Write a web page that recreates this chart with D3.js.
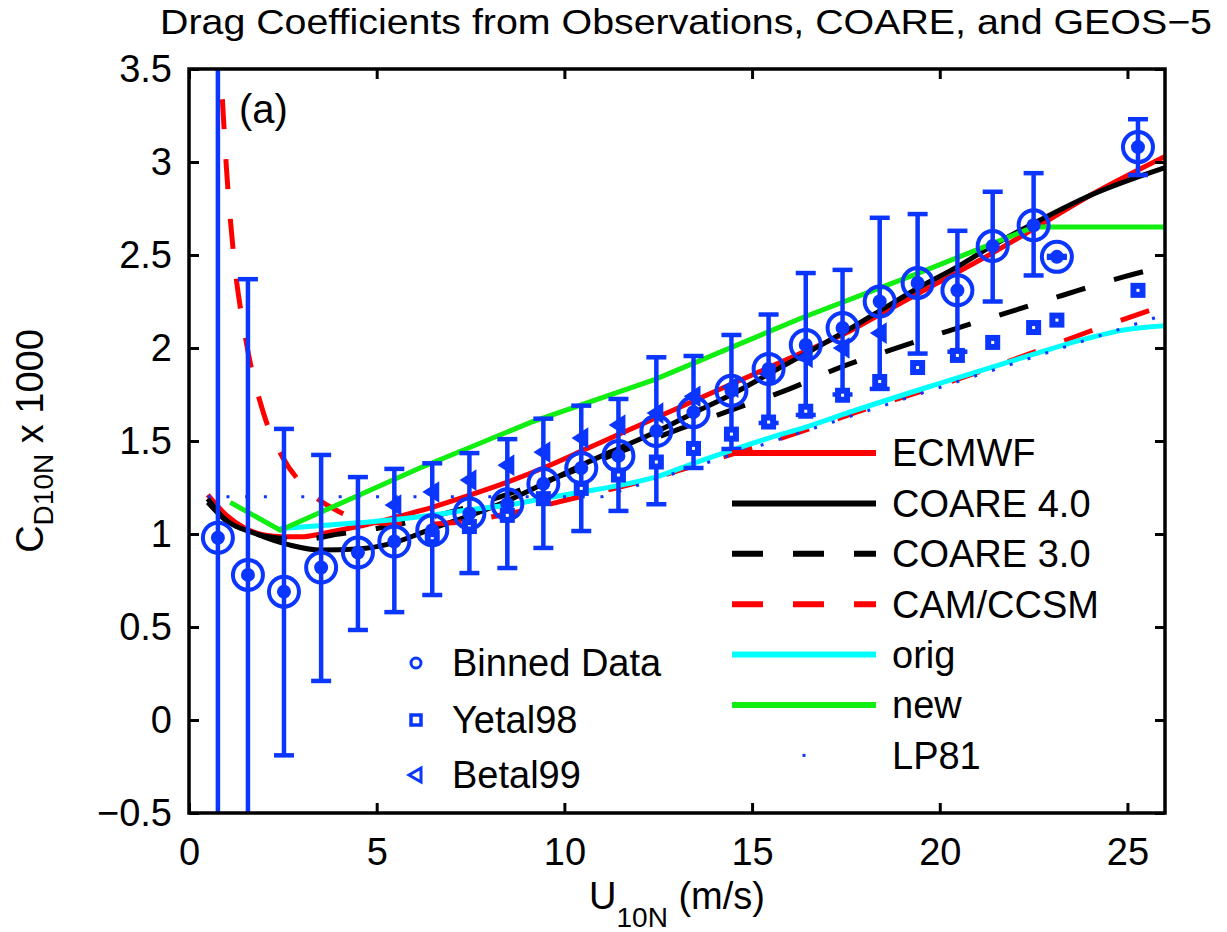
<!DOCTYPE html>
<html>
<head>
<meta charset="utf-8">
<script src="https://cdn.jsdelivr.net/npm/d3@7"></script>
<style>
  body { margin: 0; background: #fff; }
  text { font-family: "Liberation Sans", Arial, Helvetica, sans-serif; fill: #000; }
</style>
</head>
<body>
<div id="chart"></div>
<script>
// ---- data ----
// binned observations (circle + error bar)
var binU    = [0.77, 1.57, 2.53, 3.52, 4.5, 5.47, 6.48, 7.47, 8.48, 9.44, 10.45, 11.44, 12.45,
               13.44, 14.45, 15.44, 16.43, 17.41, 18.4, 19.41, 20.47, 21.41, 22.5, 23.12, 25.28];
var binCd   = [0.98, 0.78, 0.69, 0.82, 0.90, 0.96, 1.02, 1.11, 1.16, 1.27, 1.355, 1.42, 1.554,
               1.655, 1.77, 1.887, 2.016, 2.108, 2.25, 2.35, 2.31, 2.548, 2.66, 2.49, 3.08];
var binTop  = [4.2, 2.37, 1.565, 1.425, 1.306, 1.35, 1.38, 1.435, 1.51, 1.62, 1.69, 1.726, 1.95,
               1.957, 2.07, 2.18, 2.403, 2.42, 2.70, 2.72, 2.63, 2.84, 2.94, 2.495, 3.23];
var binLow  = [-1.0, -1.0, -0.19, 0.21, 0.484, 0.58, 0.672, 0.79, 0.817, 0.925, 1.016, 1.124, 1.16,
               1.355, 1.457, 1.597, 1.64, 1.75, 1.78, 1.97, 1.98, 2.25, 2.39, 2.485, 2.93];

// Yetal98 squares
var yetU  = [6.48, 7.47, 8.48, 9.44, 10.45, 11.44, 12.45, 13.44, 14.45, 15.44, 16.43, 17.41,
             18.4, 19.41, 20.47, 21.41, 22.5, 23.12, 25.28];
var yetCd = [0.98, 1.04, 1.10, 1.19, 1.245, 1.317, 1.387, 1.46, 1.537, 1.602, 1.66, 1.746,
             1.82, 1.895, 1.96, 2.03, 2.11, 2.15, 2.31];

// Betal99 triangles
var betU  = [5.47, 6.48, 7.47, 8.48, 9.44, 10.45, 11.44, 12.45, 13.44, 14.45, 15.44, 16.43, 17.41, 18.4];
var betCd = [1.156, 1.226, 1.29, 1.37, 1.44, 1.516, 1.586, 1.65, 1.74, 1.79, 1.86, 1.95, 2.0, 2.08];

// model curves
var ecmwfU  = [0.5, 1, 1.5, 2, 2.5, 3, 3.5, 4, 4.5, 5.5, 6.5, 7.5, 8.5, 9.5, 10.5, 11.5, 12.5,
               13.5, 14.5, 15.5, 16.5, 17.5, 18.4, 19.4, 20.5, 21.4, 22.5, 24, 26];
var ecmwfCd = [1.21, 1.1, 1.03, 0.995, 0.985, 0.985, 1.0, 1.02, 1.04, 1.09, 1.145, 1.21, 1.28,
               1.36, 1.45, 1.54, 1.63, 1.72, 1.81, 1.9, 1.99, 2.08, 2.18, 2.29, 2.41, 2.51, 2.64, 2.82, 3.03];

var coare4U  = [0.5, 0.9, 1.8, 2.7, 3.5, 4.5, 5.4, 6.5, 7.5, 8.5, 9.44, 10.45, 11.44, 12.45, 13.44,
                14.45, 15.44, 16.43, 17.4, 18.4, 19.4, 20.5, 21.4, 22.5, 24, 26];
var coare4Cd = [1.19, 1.09, 1.0, 0.94, 0.914, 0.92, 0.95, 1.03, 1.1, 1.18, 1.27, 1.37, 1.46, 1.55,
                1.65, 1.75, 1.86, 1.97, 2.08, 2.2, 2.32, 2.44, 2.55, 2.67, 2.82, 2.97];

var coare3U  = [0.5, 1, 2, 3, 4, 5, 6, 7, 8, 9, 10, 11.6, 13, 14.5, 16, 17.4, 18.7, 20.2, 21.8, 23.3, 24.85, 26];
var coare3Cd = [1.17, 1.07, 0.99, 0.97, 1.0, 1.03, 1.07, 1.12, 1.18, 1.25, 1.32, 1.45, 1.56, 1.67,
                1.78, 1.9, 1.99, 2.09, 2.19, 2.285, 2.38, 2.44];

var camU  = [0.8, 0.9, 1.0, 1.2, 1.5, 2, 2.5, 3, 4, 5, 6, 7, 8, 9, 10, 12, 14, 16, 18, 20, 22, 24, 26];
var camCd = [3.66, 3.3, 2.96, 2.48, 2.06, 1.64, 1.41, 1.27, 1.12, 1.06, 1.05, 1.06, 1.09, 1.13,
             1.18, 1.28, 1.40, 1.53, 1.67, 1.80, 1.94, 2.09, 2.23];

var origU  = [2.43, 3.2, 4.5, 5.35, 6.4, 7.47, 8.5, 9.44, 10.45, 11.44, 12.45, 13.44, 14.45, 15.44,
              16.43, 17.6, 20, 22.4, 23.9, 25, 26];
var origCd = [1.03, 1.04, 1.06, 1.075, 1.1, 1.13, 1.156, 1.19, 1.226, 1.26, 1.307, 1.38, 1.45, 1.515,
              1.575, 1.655, 1.81, 1.96, 2.05, 2.1, 2.12];

var newU  = [1.1, 2.43, 6.15, 9.1, 12.4, 16.3, 19.4, 22.5, 26];
var newCd = [1.17, 1.02, 1.355, 1.6, 1.83, 2.16, 2.4, 2.65, 2.65];

var lp81U  = [0.5, 11, 26];
var lp81Cd = [1.2, 1.2, 2.18];

var xTicks = [0, 5, 10, 15, 20, 25];
var yTicks = [-0.5, 0, 0.5, 1, 1.5, 2, 2.5, 3, 3.5];
var yTickLabels = ["\u22120.5", "0", "0.5", "1", "1.5", "2", "2.5", "3", "3.5"];

var lineNames = ["ECMWF", "COARE 4.0", "COARE 3.0", "CAM/CCSM", "orig", "new", "LP81"];
var markerNames = ["Binned Data", "Yetal98", "Betal99"];

// ---- layout ----
var svgWidth = 1227;
var svgHeight = 932;
var margin = { top: 69, bottom: 119, left: 189, right: 62 };
var width = svgWidth - margin.left - margin.right;
var height = svgHeight - margin.top - margin.bottom;

var blue = "#0a36ff";
var fontSize = 38;

var svg = d3.select("#chart")
  .append("svg")
  .attr("width", svgWidth)
  .attr("height", svgHeight);

var chartGroup = svg.append("g")
  .attr("transform", `translate(${margin.left}, ${margin.top})`);

var xScale = d3.scaleLinear().domain([0, 26]).range([0, width]);
var yScale = d3.scaleLinear().domain([-0.5, 3.5]).range([height, 0]);

// clip everything to the axes box
svg.append("defs").append("clipPath")
  .attr("id", "plotClip")
  .append("rect")
  .attr("width", width)
  .attr("height", height);

var plotArea = chartGroup.append("g").attr("clip-path", "url(#plotClip)");

function zip(us, cds) {
  return us.map((u, i) => [u, cds[i]]);
}

var smooth = d3.line()
  .x(d => xScale(d[0]))
  .y(d => yScale(d[1]))
  .curve(d3.curveMonotoneX);

var straight = d3.line()
  .x(d => xScale(d[0]))
  .y(d => yScale(d[1]));

var series = [
  { data: zip(ecmwfU, ecmwfCd), color: "#ff0000", dash: null, gen: smooth, w: 5 },
  { data: zip(coare4U, coare4Cd), color: "#000000", dash: null, gen: smooth, w: 5 },
  { data: zip(coare3U, coare3Cd), color: "#000000", dash: "30,30", gen: smooth, w: 5 },
  { data: zip(camU, camCd), color: "#ff0000", dash: "30,30", gen: smooth, w: 5 },
  { data: zip(origU, origCd), color: "#00ffff", dash: null, gen: smooth, w: 5 },
  { data: zip(newU, newCd), color: "#11ee11", dash: null, gen: straight, w: 5 },
  { data: zip(lp81U, lp81Cd), color: blue, dash: "3,15.7", gen: straight, w: 3 }
];

series.forEach(function(s) {
  plotArea.append("path")
    .datum(s.data)
    .attr("d", s.gen)
    .attr("fill", "none")
    .attr("stroke", s.color)
    .attr("stroke-width", s.w)
    .attr("stroke-dasharray", s.dash);
});

// error bars
var bins = binU.map((u, i) => ({ u: u, cd: binCd[i], hi: binTop[i], lo: binLow[i] }));

var bars = plotArea.selectAll(".ebar")
  .data(bins)
  .enter()
  .append("g")
  .attr("class", "ebar")
  .attr("stroke", blue)
  .attr("stroke-width", 4.5);

bars.append("line")
  .attr("x1", d => xScale(d.u)).attr("x2", d => xScale(d.u))
  .attr("y1", d => yScale(d.hi)).attr("y2", d => yScale(d.lo));
bars.append("line")
  .attr("x1", d => xScale(d.u) - 10).attr("x2", d => xScale(d.u) + 10)
  .attr("y1", d => yScale(d.hi)).attr("y2", d => yScale(d.hi));
bars.append("line")
  .attr("x1", d => xScale(d.u) - 10).attr("x2", d => xScale(d.u) + 10)
  .attr("y1", d => yScale(d.lo)).attr("y2", d => yScale(d.lo));

// Yetal98 squares
var yet = zip(yetU, yetCd);
plotArea.selectAll(".yet")
  .data(yet)
  .enter()
  .append("rect")
  .attr("class", "yet")
  .attr("x", d => xScale(d[0]) - 7.5)
  .attr("y", d => yScale(d[1]) - 7.5)
  .attr("width", 15)
  .attr("height", 15)
  .attr("fill", blue);
plotArea.selectAll(".yetdot")
  .data(yet)
  .enter()
  .append("rect")
  .attr("class", "yetdot")
  .attr("x", d => xScale(d[0]) - 1.5)
  .attr("y", d => yScale(d[1]) - 1.5)
  .attr("width", 3)
  .attr("height", 3)
  .attr("fill", "#fff");

// Betal99 triangles
plotArea.selectAll(".bet")
  .data(zip(betU, betCd))
  .enter()
  .append("path")
  .attr("class", "bet")
  .attr("d", "M-8,0L6,-9L6,9Z")
  .attr("transform", d => `translate(${xScale(d[0])}, ${yScale(d[1])})`)
  .attr("fill", blue)
  .attr("stroke", blue)
  .attr("stroke-width", 2);

// binned data: big ring + filled centre
plotArea.selectAll(".ring")
  .data(bins)
  .enter()
  .append("circle")
  .attr("class", "ring")
  .attr("cx", d => xScale(d.u))
  .attr("cy", d => yScale(d.cd))
  .attr("r", 15)
  .attr("fill", "none")
  .attr("stroke", blue)
  .attr("stroke-width", 4);
plotArea.selectAll(".dot")
  .data(bins)
  .enter()
  .append("circle")
  .attr("class", "dot")
  .attr("cx", d => xScale(d.u))
  .attr("cy", d => yScale(d.cd))
  .attr("r", 7)
  .attr("fill", blue);

// ---- axes (ticks point inward, mirrored on top/right) ----
var bottomAxis = d3.axisBottom(xScale).tickValues(xTicks).tickSize(-10).tickSizeOuter(0).tickPadding(25);
var leftAxis = d3.axisLeft(yScale).tickValues(yTicks).tickSize(-10).tickSizeOuter(0).tickPadding(17)
  .tickFormat((d, i) => yTickLabels[i]);
var topAxis = d3.axisTop(xScale).tickValues(xTicks).tickSize(-10).tickSizeOuter(0).tickFormat("");
var rightAxis = d3.axisRight(yScale).tickValues(yTicks).tickSize(-10).tickSizeOuter(0).tickFormat("");

chartGroup.append("g").attr("transform", `translate(0, ${height})`).call(bottomAxis);
chartGroup.append("g").call(leftAxis);
chartGroup.append("g").call(topAxis);
chartGroup.append("g").attr("transform", `translate(${width}, 0)`).call(rightAxis);

chartGroup.selectAll(".domain").remove();
chartGroup.selectAll(".tick line").attr("stroke", "#000").attr("stroke-width", 3);
chartGroup.selectAll(".tick text")
  .attr("font-size", fontSize)
  .attr("font-family", '"Liberation Sans", Arial, sans-serif')
  .attr("fill", "#000");

chartGroup.append("rect")
  .attr("width", width)
  .attr("height", height)
  .attr("fill", "none")
  .attr("stroke", "#000")
  .attr("stroke-width", 3.5);

// ---- line legend ----
var legend = chartGroup.append("g").attr("transform", "translate(543, 384)");
lineNames.forEach(function(name, i) {
  var s = series[i];
  var row = legend.append("g").attr("transform", `translate(0, ${i * 50.4})`);
  if (name === "LP81") {
    row.append("rect").attr("x", 70.5).attr("y", -1.5).attr("width", 3).attr("height", 3).attr("fill", blue);
  } else {
    row.append("line")
      .attr("x1", 0).attr("x2", 144)
      .attr("stroke", s.color)
      .attr("stroke-width", s.w + 1)
      .attr("stroke-dasharray", s.dash ? "31,30" : null);
  }
  row.append("text")
    .attr("x", 160)
    .attr("dy", "0.35em")
    .attr("font-size", fontSize)
    .text(name);
});

// ---- marker legend ----
var mlegend = chartGroup.append("g").attr("transform", "translate(227, 594)");
var mRowY = [0, 57, 112];
markerNames.forEach(function(name, i) {
  var row = mlegend.append("g").attr("transform", `translate(0, ${mRowY[i]})`);
  if (i === 0) {
    row.append("circle").attr("r", 5).attr("fill", "none").attr("stroke", blue).attr("stroke-width", 3);
  } else if (i === 1) {
    row.append("rect").attr("x", -5).attr("y", -5).attr("width", 10).attr("height", 10)
      .attr("fill", "none").attr("stroke", blue).attr("stroke-width", 3.5);
  } else {
    row.append("path").attr("d", "M-7,0L5,-7L5,7Z")
      .attr("fill", "none").attr("stroke", blue).attr("stroke-width", 3).attr("stroke-linejoin", "miter");
  }
  row.append("text")
    .attr("x", 36)
    .attr("dy", "0.35em")
    .attr("font-size", fontSize)
    .text(name);
});

// panel tag
chartGroup.append("text")
  .attr("x", 50)
  .attr("y", 54)
  .attr("font-size", 40)
  .text("(a)");

// ---- titles ----
svg.append("text")
  .attr("x", 686)
  .attr("y", 34)
  .attr("text-anchor", "middle")
  .attr("font-size", 35)
  .attr("textLength", 1052)
  .attr("lengthAdjust", "spacingAndGlyphs")
  .text("Drag Coefficients from Observations, COARE, and GEOS\u22125");

var xLabel = svg.append("text")
  .attr("x", margin.left + width / 2)
  .attr("y", 909)
  .attr("text-anchor", "middle")
  .attr("font-size", fontSize);
xLabel.append("tspan").text("U");
xLabel.append("tspan").attr("font-size", 28).attr("dy", 18).text("10N");
xLabel.append("tspan").attr("dy", -18).text(" (m/s)");

var yLabel = svg.append("text")
  .attr("transform", `translate(43, ${margin.top + height / 2}) rotate(-90)`)
  .attr("text-anchor", "middle")
  .attr("font-size", fontSize);
yLabel.append("tspan").text("C");
yLabel.append("tspan").attr("font-size", 28).attr("dy", 10).text("D10N");
yLabel.append("tspan").attr("dy", -10).text(" x 1000");
</script>
</body>
</html>
